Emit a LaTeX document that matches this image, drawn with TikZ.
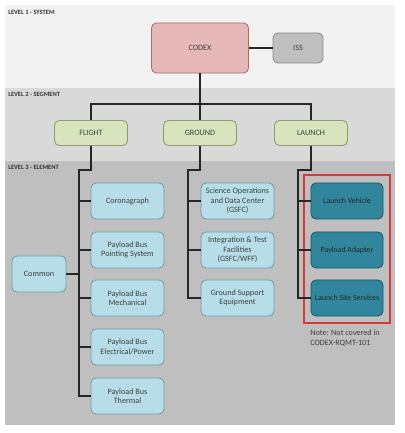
\documentclass[tikz,border=0pt]{standalone}
\usepackage{fontspec}
\setmainfont{Carlito}
\definecolor{bandA}{HTML}{F2F2F2}
\definecolor{bandB}{HTML}{D9D9D9}
\definecolor{bandC}{HTML}{BFBFBF}
\definecolor{codexfill}{HTML}{E6B9B8}
\definecolor{codexline}{HTML}{A0706F}
\definecolor{issfill}{HTML}{BFBFBF}
\definecolor{issline}{HTML}{8C8C8C}
\definecolor{segfill}{HTML}{D7E4BD}
\definecolor{segline}{HTML}{8E9C6A}
\definecolor{elemfill}{HTML}{B7DEE8}
\definecolor{elemline}{HTML}{6E9CA8}
\definecolor{lvfill}{HTML}{31859C}
\definecolor{lvline}{HTML}{215968}
\definecolor{txtgrey}{HTML}{404040}
\definecolor{wire}{HTML}{262626}
\definecolor{redbox}{HTML}{D9383A}
\tikzset{
  box/.style={draw, line width=0.6pt, rounded corners=3.5pt, align=center,
    inner sep=1pt, text=txtgrey, font=\fontsize{5.8}{6.8}\selectfont},
  codexbox/.style={box, fill=codexfill, draw=codexline, minimum width=2.425cm, minimum height=1.25cm},
  issbox/.style={box, fill=issfill, draw=issline, minimum width=1.25cm, minimum height=0.75cm},
  segbox/.style={box, fill=segfill, draw=segline, minimum width=1.825cm, minimum height=0.625cm},
  elembox/.style={box, fill=elemfill, draw=elemline, minimum width=1.825cm, minimum height=0.9cm},
  lvbox/.style={box, fill=lvfill, draw=lvline, text=black!85, minimum width=1.8cm, minimum height=0.9cm,
    font=\fontsize{5.6}{6.8}\selectfont},
  levellabel/.style={anchor=west, inner sep=0pt, text=black!80, font=\fontsize{4.6}{5.4}\selectfont\bfseries},
  wiring/.style={draw=wire, line width=0.9pt}
}
\begin{document}
\begin{tikzpicture}[x=0.025cm, y=-0.025cm]
  \useasboundingbox (0,0) rectangle (404,433);
  % bands
  \fill[bandA] (5,5) rectangle (395,88);
  \fill[bandB] (5,88) rectangle (395,161);
  \fill[bandC] (5,161) rectangle (395,425);
  \node[levellabel] (lv1) at (8,12) {LEVEL 1 - SYSTEM};
  \node[levellabel] (lv2) at (8,94) {LEVEL 2 - SEGMENT};
  \node[levellabel] (lv3) at (8,167) {LEVEL 3 - ELEMENT};
  % level 1
  \node[codexbox] (codex) at (200,48) {CODEX};
  \node[issbox] (iss) at (298,48) {ISS};
  % level 2
  \node[segbox] (flight) at (91,133) {FLIGHT};
  \node[segbox] (ground) at (200,133) {GROUND};
  \node[segbox] (launch) at (311,133) {LAUNCH};
  % level 3 flight
  \node[elembox] (coro) at (127.5,201) {Coronagraph};
  \node[elembox] (point) at (127.5,250) {Payload Bus\\Pointing System};
  \node[elembox] (mech) at (127.5,298) {Payload Bus\\Mechanical};
  \node[elembox] (elec) at (127.5,347) {Payload Bus\\Electrical/Power};
  \node[elembox] (therm) at (127.5,396) {Payload Bus\\Thermal};
  \node[elembox, minimum width=1.35cm] (common) at (39,274) {Common};
  % level 3 ground
  \node[elembox] (sdc) at (237.5,201) {Science Operations\\and Data Center\\(GSFC)};
  \node[elembox] (itf) at (237.5,250) {Integration \& Test\\Facilities\\(GSFC/WFF)};
  \node[elembox] (gse) at (237.5,298) {Ground Support\\Equipment};
  % level 3 launch
  \node[lvbox] (lveh) at (347,201) {Launch Vehicle};
  \node[lvbox] (pla) at (347,250) {Payload Adapter};
  \node[lvbox] (lss) at (347,298) {Launch Site Services};
  \draw[redbox, line width=0.8pt] (304,175) rectangle (390,323);
  \node[anchor=north west, align=left, inner sep=0pt, text=txtgrey,
    font=\fontsize{5.8}{7.1}\selectfont] (note) at (310,330) {Note: Not covered in\\CODEX-RQMT-101};
  % wiring
  \coordinate (segbar) at (200,104);
  \coordinate (fltop) at (79,170);
  \coordinate (grtop) at (188,170);
  \coordinate (latop) at (298,170);
  \draw[wiring] (codex) -- (iss);
  \draw[wiring] (codex) -- (segbar) -- (ground);
  \draw[wiring] (flight) |- (segbar) -| (launch);
  \draw[wiring] (flight) |- (fltop) |- (therm);
  \foreach \n in {coro, point, mech, elec}
    \draw[wiring] (fltop |- \n) -- (\n);
  \draw[wiring] (common) -- (common -| fltop);
  \draw[wiring] (ground) |- (grtop) |- (gse);
  \foreach \n in {sdc, itf}
    \draw[wiring] (grtop |- \n) -- (\n);
  \draw[wiring] (launch) |- (latop) |- (lss);
  \foreach \n in {lveh, pla}
    \draw[wiring] (latop |- \n) -- (\n);
\end{tikzpicture}
\end{document}
